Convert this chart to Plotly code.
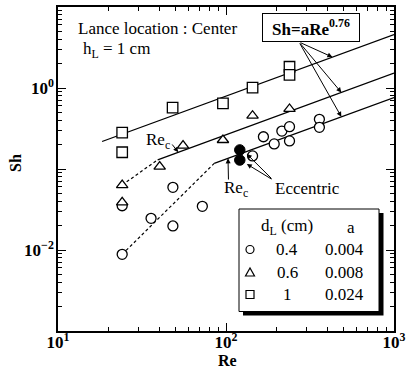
import numpy as np
import plotly.graph_objects as go

# Measured Sherwood numbers, lance at the centre, h_L = 1 cm
# d_L = 0.4 cm (open circles)
re_circle = [24.1, 24.1, 35.8, 48.3, 48.3, 72.3, 143.9, 167, 193.6, 215, 238.8, 238.8, 359.7, 359.7]
sh_circle = [0.0352, 0.00885, 0.0246, 0.0594, 0.0198, 0.0346, 0.145, 0.25, 0.204, 0.294, 0.333, 0.222, 0.411, 0.327]
# d_L = 0.6 cm (open triangles)
re_triangle = [24.1, 24.1, 40.3, 55.5, 95.9, 143.9, 238.8]
sh_triangle = [0.0634, 0.0388, 0.107, 0.194, 0.228, 0.455, 0.551]
# d_L = 1 cm (open squares)
re_square = [24.1, 24.1, 48.1, 95.9, 143.9, 238.8, 238.8]
sh_square = [0.281, 0.161, 0.571, 0.647, 1.01, 1.83, 1.45]
# eccentric lance, d_L = 0.4 cm (filled circles)
re_eccentric = [120.8, 120.8]
sh_eccentric = [0.172, 0.129]

# Correlation Sh = a * Re^0.76
d_L = [0.4, 0.6, 1]
a_coef = [0.004, 0.008, 0.024]
exponent = 0.76
fit_start_re = [85.1, 39.2, 18.3]
fit_end_re = 1000.0
arrow_re = [486, 486, 430]          # where the formula arrows meet each fit line
re_c_upper = 52                      # Re_c marked on the d_L = 0.6 line
re_c_lower = 102.8                   # Re_c marked on the d_L = 0.4 line

FONT = "Liberation Serif, Times New Roman, serif"
FS = 17
W_FIG, H_FIG = 408, 369
L, R, T, B = 58, 394, 7, 331
PW, PH = R - L, B - T
X_RANGE, Y_RANGE = (1, 3), (-3, 1)


def sh_fit(a, re):
    return a * np.power(re, exponent)


def to_px(re, sh):
    lx = (np.log10(re) - X_RANGE[0]) / (X_RANGE[1] - X_RANGE[0])
    ly = (np.log10(sh) - Y_RANGE[0]) / (Y_RANGE[1] - Y_RANGE[0])
    return L + lx * PW, B - ly * PH


def from_px(x, y):
    lre = X_RANGE[0] + (x - L) / PW * (X_RANGE[1] - X_RANGE[0])
    lsh = Y_RANGE[0] + (B - y) / PH * (Y_RANGE[1] - Y_RANGE[0])
    return 10 ** lre, 10 ** lsh


def pxx(x):
    return (x - L) / PW


def pxy(y):
    return (B - y) / PH


fig = go.Figure()

# fit lines
for a, r0 in zip(a_coef, fit_start_re):
    re_line = np.geomspace(r0, fit_end_re, 20)
    fig.add_trace(go.Scatter(x=re_line, y=sh_fit(a, re_line), mode="lines",
                             line=dict(color="black", width=1.3), showlegend=False))

# dashed transitions below Re_c
dash_sets = [
    (re_circle[1], sh_circle[1], a_coef[0], fit_start_re[0]),
    (re_triangle[0], sh_triangle[0], a_coef[1], fit_start_re[1]),
]
for r_lo, s_lo, a, r0 in dash_sets:
    fig.add_trace(go.Scatter(x=[r_lo, r0], y=[s_lo, sh_fit(a, r0)], mode="lines",
                             line=dict(color="black", width=1.2, dash="3px,2.5px"),
                             showlegend=False))

mline = dict(color="black", width=1.3)
fig.add_trace(go.Scatter(x=re_circle, y=sh_circle, mode="markers", showlegend=False,
                         marker=dict(symbol="circle", size=10, color="white", line=mline)))
fig.add_trace(go.Scatter(x=re_triangle, y=sh_triangle, mode="markers", showlegend=False,
                         marker=dict(symbol="triangle-up", size=10, color="white", line=mline)))
fig.add_trace(go.Scatter(x=re_square, y=sh_square, mode="markers", showlegend=False,
                         marker=dict(symbol="square", size=10.5, color="white", line=mline)))
fig.add_trace(go.Scatter(x=re_eccentric, y=sh_eccentric, mode="markers", showlegend=False,
                         marker=dict(symbol="circle", size=10.5, color="black",
                                     line=dict(color="black", width=1))))

annotations = []


def text(x, y, s, size=FS, bold=False, **kw):
    if bold:
        s = "<b>" + s + "</b>"
    d = dict(x=pxx(x), y=pxy(y), xref="paper", yref="paper", text=s, showarrow=False,
             xanchor="center", yanchor="middle",
             font=dict(family=FONT, size=size, color="black"))
    d.update(kw)
    annotations.append(d)


def arrow(re, sh, tail_x, tail_y, **kw):
    tx, ty = to_px(re, sh)
    d = dict(x=np.log10(re), y=np.log10(sh), xref="x", yref="y", text="",
             showarrow=True, arrowhead=2, arrowsize=1, arrowwidth=1, arrowcolor="black",
             ax=tail_x - tx, ay=tail_y - ty)
    d.update(kw)
    annotations.append(d)


text(76, 29, "Lance location : Center", xanchor="left")
text(81, 50, "h<sub>L</sub> = 1 cm", xanchor="left")

# formula box with arrows to the three fit lines
text(311, 27, "Sh=aRe<sup>0.76</sup>", bold=True, bordercolor="black", borderwidth=1,
     borderpad=2, bgcolor="white", width=92, height=23)
for a, re in zip(a_coef, arrow_re):
    arrow(re, sh_fit(a, re), 299, 42)

# Re_c markers
text(158, 141, "Re<sub>c</sub>")
arrow(re_c_upper, sh_fit(a_coef[1], re_c_upper), 171, 143)
text(236, 189, "Re<sub>c</sub>")
arrow(re_c_lower, sh_fit(a_coef[0], re_c_lower), 228.5, 181)

# eccentric lance points
text(307, 188, "Eccentric")
for r, s_ in zip(re_eccentric, sh_eccentric):
    ex, ey = to_px(r, s_)
    tip_re, tip_sh = from_px(ex + 7, ey + 4)
    arrow(tip_re, tip_sh, 273, 180)

# axis titles
text(227, 360, "Re", size=16, bold=True)
text(15, 163, "Sh", size=16, bold=True, textangle=-90)

# legend table with drop shadow
shapes = [
    dict(type="rect", xref="paper", yref="paper", x0=pxx(243), x1=pxx(383.5),
         y0=pxy(315.5), y1=pxy(213), fillcolor="black", line=dict(width=0)),
    dict(type="rect", xref="paper", yref="paper", x0=pxx(239), x1=pxx(379),
         y0=pxy(311.5), y1=pxy(209), fillcolor="white", line=dict(color="black", width=1)),
]
text(287, 227, "d<sub>L</sub> (cm)")
text(351, 227, "a")
row_y = [249.5, 272.5, 294.5]
sym_x, s = 250, 4
for i, (d, a) in enumerate(zip(d_L, a_coef)):
    yy = row_y[i]
    text(287, yy, f"{d:g}")
    text(344, yy, f"{a:.3f}")
    ln = dict(color="black", width=1.2)
    if i == 0:
        shapes.append(dict(type="circle", xref="paper", yref="paper", x0=pxx(sym_x - s),
                           x1=pxx(sym_x + s), y0=pxy(yy + s), y1=pxy(yy - s), line=ln))
    elif i == 1:
        path = "M {} {} L {} {} L {} {} Z".format(pxx(sym_x - 4.5), pxy(yy + 3.5), pxx(sym_x + 4.5),
                                                  pxy(yy + 3.5), pxx(sym_x), pxy(yy - 4.5))
        shapes.append(dict(type="path", xref="paper", yref="paper", path=path, line=ln))
    else:
        shapes.append(dict(type="rect", xref="paper", yref="paper", x0=pxx(sym_x - s),
                           x1=pxx(sym_x + s), y0=pxy(yy + s), y1=pxy(yy - s), line=ln))

minor_x = [m * 10 ** k for k in (1, 2) for m in range(2, 10)]
minor_y = [m * 10.0 ** k for k in (-3, -2, -1, 0) for m in range(2, 10)]
tickfont = dict(family=FONT, size=17, color="black")

fig.update_layout(
    width=W_FIG, height=H_FIG, margin=dict(l=L, r=W_FIG - R, t=T, b=H_FIG - B),
    paper_bgcolor="white", plot_bgcolor="white",
    annotations=annotations, shapes=shapes,
    xaxis=dict(type="log", range=list(X_RANGE), showgrid=False, zeroline=False, automargin=False,
               showline=True, linecolor="black", linewidth=1.5, mirror="allticks",
               ticks="inside", ticklen=8, tickwidth=1.2, tickcolor="black",
               tickvals=[10, 100, 1000], ticklabelstandoff=-5,
               ticktext=["<b>10<sup>1</sup></b>", "<b>10<sup>2</sup></b>", "<b>10<sup>3</sup></b>"],
               tickfont=tickfont,
               minor=dict(tickvals=minor_x, ticks="inside", ticklen=4, tickwidth=1, tickcolor="black",
                          showgrid=False)),
    yaxis=dict(type="log", range=list(Y_RANGE), showgrid=False, zeroline=False, automargin=False,
               showline=True, linecolor="black", linewidth=1.5, mirror="allticks",
               ticks="inside", ticklen=8, tickwidth=1.2, tickcolor="black",
               tickvals=[1e-3, 1e-2, 1e-1, 1, 10], ticklabelstandoff=-1,
               ticktext=["", "<b>10<sup>\u22122</sup></b>", "", "<b>10<sup>0</sup></b>", ""],
               tickfont=tickfont,
               minor=dict(tickvals=minor_y, ticks="inside", ticklen=4, tickwidth=1, tickcolor="black",
                          showgrid=False)),
)

fig.write_html("out.html")
